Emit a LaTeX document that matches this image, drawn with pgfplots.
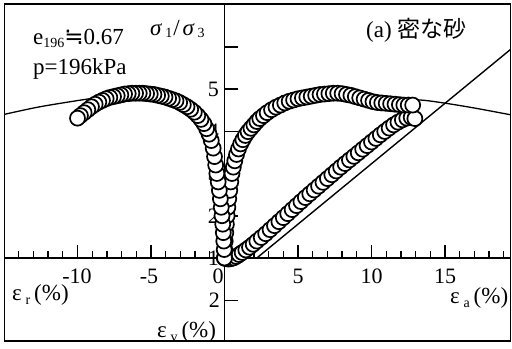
\documentclass[border=0pt]{standalone}
\usepackage{fontspec}
\setmainfont{Liberation Serif}
\newfontfamily\jp{Noto Sans CJK JP}
\newfontfamily\symfont{DejaVu Sans}
\usepackage{pgfplots}
\usepackage{pgfplotstable}
\pgfplotsset{compat=1.18}

\newcommand\tickfont{\fontsize{22bp}{24bp}\selectfont}
\newcommand\labfont{\fontsize{23bp}{26bp}\selectfont}
\newcommand\subfont{\fontsize{14bp}{15bp}\selectfont}

% stress ratio vs axial strain (ea in %)
\pgfplotstableread{
ea  R
0     1.00
0.02  1.20
0.05  1.40
0.09  1.60
0.13  1.80
0.18  2.00
0.23  2.20
0.29  2.40
0.36  2.60
0.43  2.80
0.51  3.00
0.60  3.15
0.70  3.30
0.82  3.45
0.95  3.58
1.10  3.70
1.25  3.80
1.42  3.90
1.60  3.99
1.80  4.07
2.00  4.15
2.20  4.23
2.40  4.30
2.65  4.37
2.90  4.44
3.20  4.51
3.50  4.57
3.80  4.62
4.10  4.67
4.40  4.71
4.70  4.74
5.00  4.77
5.30  4.79
5.60  4.81
5.90  4.83
6.20  4.85
6.50  4.87
6.80  4.88
7.10  4.89
7.40  4.90
7.70  4.90
8.00  4.89
8.30  4.87
8.60  4.85
8.90  4.82
9.20  4.79
9.50  4.76
9.80  4.73
10.10 4.70
10.40 4.68
10.70 4.67
11.00 4.66
11.30 4.65
11.60 4.64
11.90 4.63
12.20 4.62
12.50 4.62
12.80 4.62
}\axialdata

% stress ratio vs radial strain (er in %)
\pgfplotstableread{
er  R
0      1.00
-0.02  1.20
-0.05  1.40
-0.08  1.60
-0.12  1.80
-0.17  2.00
-0.22  2.20
-0.28  2.40
-0.35  2.60
-0.43  2.80
-0.52  3.00
-0.60  3.20
-0.68  3.40
-0.77  3.60
-0.90  3.78
-1.05  3.93
-1.22  4.06
-1.40  4.18
-1.60  4.28
-1.82  4.37
-2.05  4.45
-2.30  4.52
-2.55  4.58
-2.80  4.63
-3.05  4.68
-3.30  4.72
-3.55  4.75
-3.80  4.78
-4.05  4.81
-4.30  4.83
-4.55  4.85
-4.80  4.87
-5.05  4.88
-5.30  4.89
-5.55  4.90
-5.80  4.90
-6.05  4.90
-6.30  4.90
-6.55  4.89
-6.80  4.88
-7.05  4.86
-7.30  4.84
-7.55  4.82
-7.80  4.80
-8.05  4.77
-8.30  4.73
-8.55  4.69
-8.80  4.64
-9.05  4.58
-9.30  4.51
-9.55  4.44
-9.80  4.37
-10.00 4.31
}\radialdata

% volumetric strain vs axial strain (both in %, compression positive)
\pgfplotstableread{
ea    ev
0      0.00
0.10   0.03
0.25   0.05
0.40   0.04
0.60   0.00
0.80  -0.07
1.00  -0.16
1.20  -0.26
1.45  -0.38
1.70  -0.51
1.95  -0.65
2.20  -0.80
2.50  -0.97
2.80  -1.15
3.10  -1.34
3.40  -1.53
3.70  -1.72
4.00  -1.91
4.30  -2.10
4.60  -2.29
4.90  -2.48
5.20  -2.67
5.50  -2.86
5.80  -3.04
6.10  -3.22
6.40  -3.40
6.70  -3.58
7.00  -3.76
7.30  -3.94
7.60  -4.12
7.90  -4.30
8.20  -4.47
8.50  -4.64
8.80  -4.81
9.10  -4.98
9.40  -5.15
9.70  -5.32
10.00 -5.49
10.30 -5.66
10.60 -5.83
10.90 -5.99
11.20 -6.15
11.50 -6.30
11.80 -6.43
12.10 -6.54
12.40 -6.62
12.70 -6.66
12.95 -6.60
}\voldata

% fitted curves (stress ratio)
\pgfplotstableread{
e  R
-14.97 4.40
-12.55 4.58
-9.37  4.76
-7.00  4.88
-5.00  4.90
-3.00  4.72
-1.50  4.25
-0.60  3.40
-0.20  2.20
0      1.00
}\fitleft
\pgfplotstableread{
e  R
0      1.00
0.20   2.10
0.60   3.20
1.50   4.00
3.00   4.50
5.00   4.77
7.50   4.90
9.50   4.80
11.00  4.76
13.30  4.74
14.90  4.67
17.00  4.55
19.46  4.39
}\fitright

\begin{document}
\begin{tikzpicture}
\begin{axis}[
  at={(0,0)}, anchor=south west,
  width=506bp, height=337bp, scale only axis,
  xmin=-14.966, xmax=19.456, ymin=-0.9645, ymax=7.012,
  axis line style={line width=1.8bp},
  xtick=\empty, ytick=\empty,
  mark size=7.5bp,
]
% inner axes
\draw[line width=2bp] (axis cs:-14.966,1) -- (axis cs:19.456,1);
\draw[line width=1.8bp] (axis cs:0,-0.9645) -- (axis cs:0,7.012);
% strain ticks
\pgfplotsinvokeforeach{-14,-13,-12,-11,-9,-8,-7,-6,-4,-3,-2,-1,1,2,3,4,6,7,8,9,11,12,13,14,16,17,18,19}{
  \draw[line width=1.3bp] (axis cs:#1,1) -- ([yshift=7bp]axis cs:#1,1);
}
\pgfplotsinvokeforeach{-10,-5,5,10,15}{
  \draw[line width=1.3bp] (axis cs:#1,1) -- ([yshift=13bp]axis cs:#1,1);
}
% stress ratio and volumetric strain ticks
\pgfplotsinvokeforeach{0,2,3,4,5,6}{
  \draw[line width=1.5bp] (axis cs:0,#1) -- ([xshift=13bp]axis cs:0,#1);
}
% tick labels
\node[font=\tickfont] at (axis cs:-10.03,0.562) {-10};
\node[font=\tickfont] at (axis cs:-5.14,0.562) {-5};
\node[font=\tickfont] at (axis cs:-0.44,0.562) {0};
\node[font=\tickfont] at (axis cs:5,0.562) {5};
\node[font=\tickfont] at (axis cs:10,0.562) {10};
\node[font=\tickfont] at (axis cs:15,0.562) {15};
\pgfplotsinvokeforeach{1,2,3,4,5}{
  \node[font=\tickfont,anchor=east,inner sep=0pt] at (axis cs:-0.37,#1) {#1};
}
\node[font=\tickfont,anchor=east,inner sep=0pt] at (axis cs:-0.3,0) {2};

% fitted curves and dilatancy line
\addplot[line width=1.3bp, smooth, tension=0.5] table[x=e, y=R] {\fitleft};
\addplot[line width=1.3bp, smooth, tension=0.5] table[x=e, y=R] {\fitright};
\addplot[line width=1.4bp] coordinates {(2.2,1) (19.456,5.936)};

% measured data
\addplot[only marks, mark=*, mark options={fill=white, draw=black, line width=1.7bp}]
  table[x=ea, y expr={1-\thisrow{ev}/2}] {\voldata};
\addplot[only marks, mark=*, mark options={fill=white, draw=black, line width=1.7bp}]
  table[x=ea, y=R] {\axialdata};
\addplot[only marks, mark=*, mark options={fill=white, draw=black, line width=1.7bp}]
  table[x=er, y=R] {\radialdata};
\end{axis}

% annotations
\node[anchor=base west, inner sep=0pt, font=\labfont] at (28.5bp,296bp)
  {e\raisebox{-3bp}{\subfont 196}{\symfont ≒}0.67};
\node[anchor=base west, inner sep=0pt, font=\labfont] at (28.5bp,266bp) {p=196kPa};
\node[anchor=base west, inner sep=0pt, font=\labfont] at (145.5bp,305bp)
  {\textit{σ}\kern3bp\raisebox{-2bp}{\subfont 1}\kern1bp/\kern3bp\textit{σ}\kern3bp\raisebox{-2bp}{\subfont 3}};
\node[anchor=base west, inner sep=0pt, font=\labfont] at (361.5bp,303bp) {(a) {\jp 密な砂}};
\node[anchor=base west, inner sep=0pt, font=\labfont] at (7.5bp,40bp)
  {ε\,\raisebox{-4bp}{\subfont r}\,(\%)};
\node[anchor=base west, inner sep=0pt, font=\labfont] at (152.5bp,4bp)
  {ε\,\raisebox{-4bp}{\subfont v}\,(\%)};
\node[anchor=base west, inner sep=0pt, font=\labfont] at (445.5bp,38bp)
  {ε\,\raisebox{-4bp}{\subfont a}\,(\%)};
\path (-4.5bp,-8bp) rectangle (507.5bp,341bp);
\end{tikzpicture}
\end{document}
